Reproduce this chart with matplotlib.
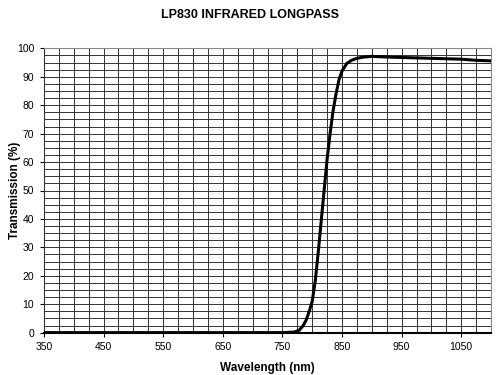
import matplotlib
matplotlib.use("Agg")
import matplotlib.pyplot as plt
import numpy as np

plt.rcParams['font.family'] = ['Liberation Sans', 'DejaVu Sans']

wavelength = [350, 500, 650, 750, 770, 778, 785, 790, 795, 800, 805, 810, 815, 820, 825,
              830, 835, 840, 845, 850, 858, 866, 875, 885, 900, 920, 950, 1000, 1050, 1075, 1100]
transmission = [0, 0, 0, 0, 0.2, 0.8, 2.5, 4.5, 7.5, 11, 18, 28, 39, 50, 61,
                70, 78, 84, 89, 92, 94.7, 95.8, 96.5, 96.9, 97.2, 97.0, 96.8, 96.5, 96.2, 95.8, 95.6]

xticks = [350, 450, 550, 650, 750, 850, 950, 1050]
yticks = list(range(0, 101, 10))

fig = plt.figure(figsize=(5, 3.75), dpi=100)
ax = fig.add_axes([0.088, 0.113, 0.894, 0.758])

ax.plot(wavelength, transmission, color='black', lw=2.2, solid_capstyle='round', zorder=3)

ax.set_xlim(350, 1100)
ax.set_ylim(0, 100)
ax.set_xticks(xticks)
ax.set_yticks(yticks)
ax.set_xticks(np.arange(350, 1101, 25), minor=True)
ax.set_yticks(np.arange(0, 100.1, 2.5), minor=True)
ax.grid(which='both', color='#333333', lw=0.7)
ax.tick_params(which='minor', length=0)
ax.tick_params(which='major', length=3, width=0.8, labelsize=7.5, pad=4)
ax.set_axisbelow(True)

for s in ['top', 'right']:
    ax.spines[s].set_color('#888888')
    ax.spines[s].set_linewidth(0.8)
ax.spines['left'].set_color('#333333')
ax.spines['bottom'].set_color('black')
ax.spines['bottom'].set_linewidth(1.5)

ax.set_xlabel('Wavelength (nm)', fontsize=8.5, fontweight='bold', labelpad=7)
ax.set_ylabel('Transmission (%)', fontsize=8.5, fontweight='bold')
ax.yaxis.set_label_coords(-0.052, 0.5)
fig.suptitle('LP830 INFRARED LONGPASS', fontsize=9, fontweight='bold', y=0.975)

fig.savefig('out.png', dpi=100)
